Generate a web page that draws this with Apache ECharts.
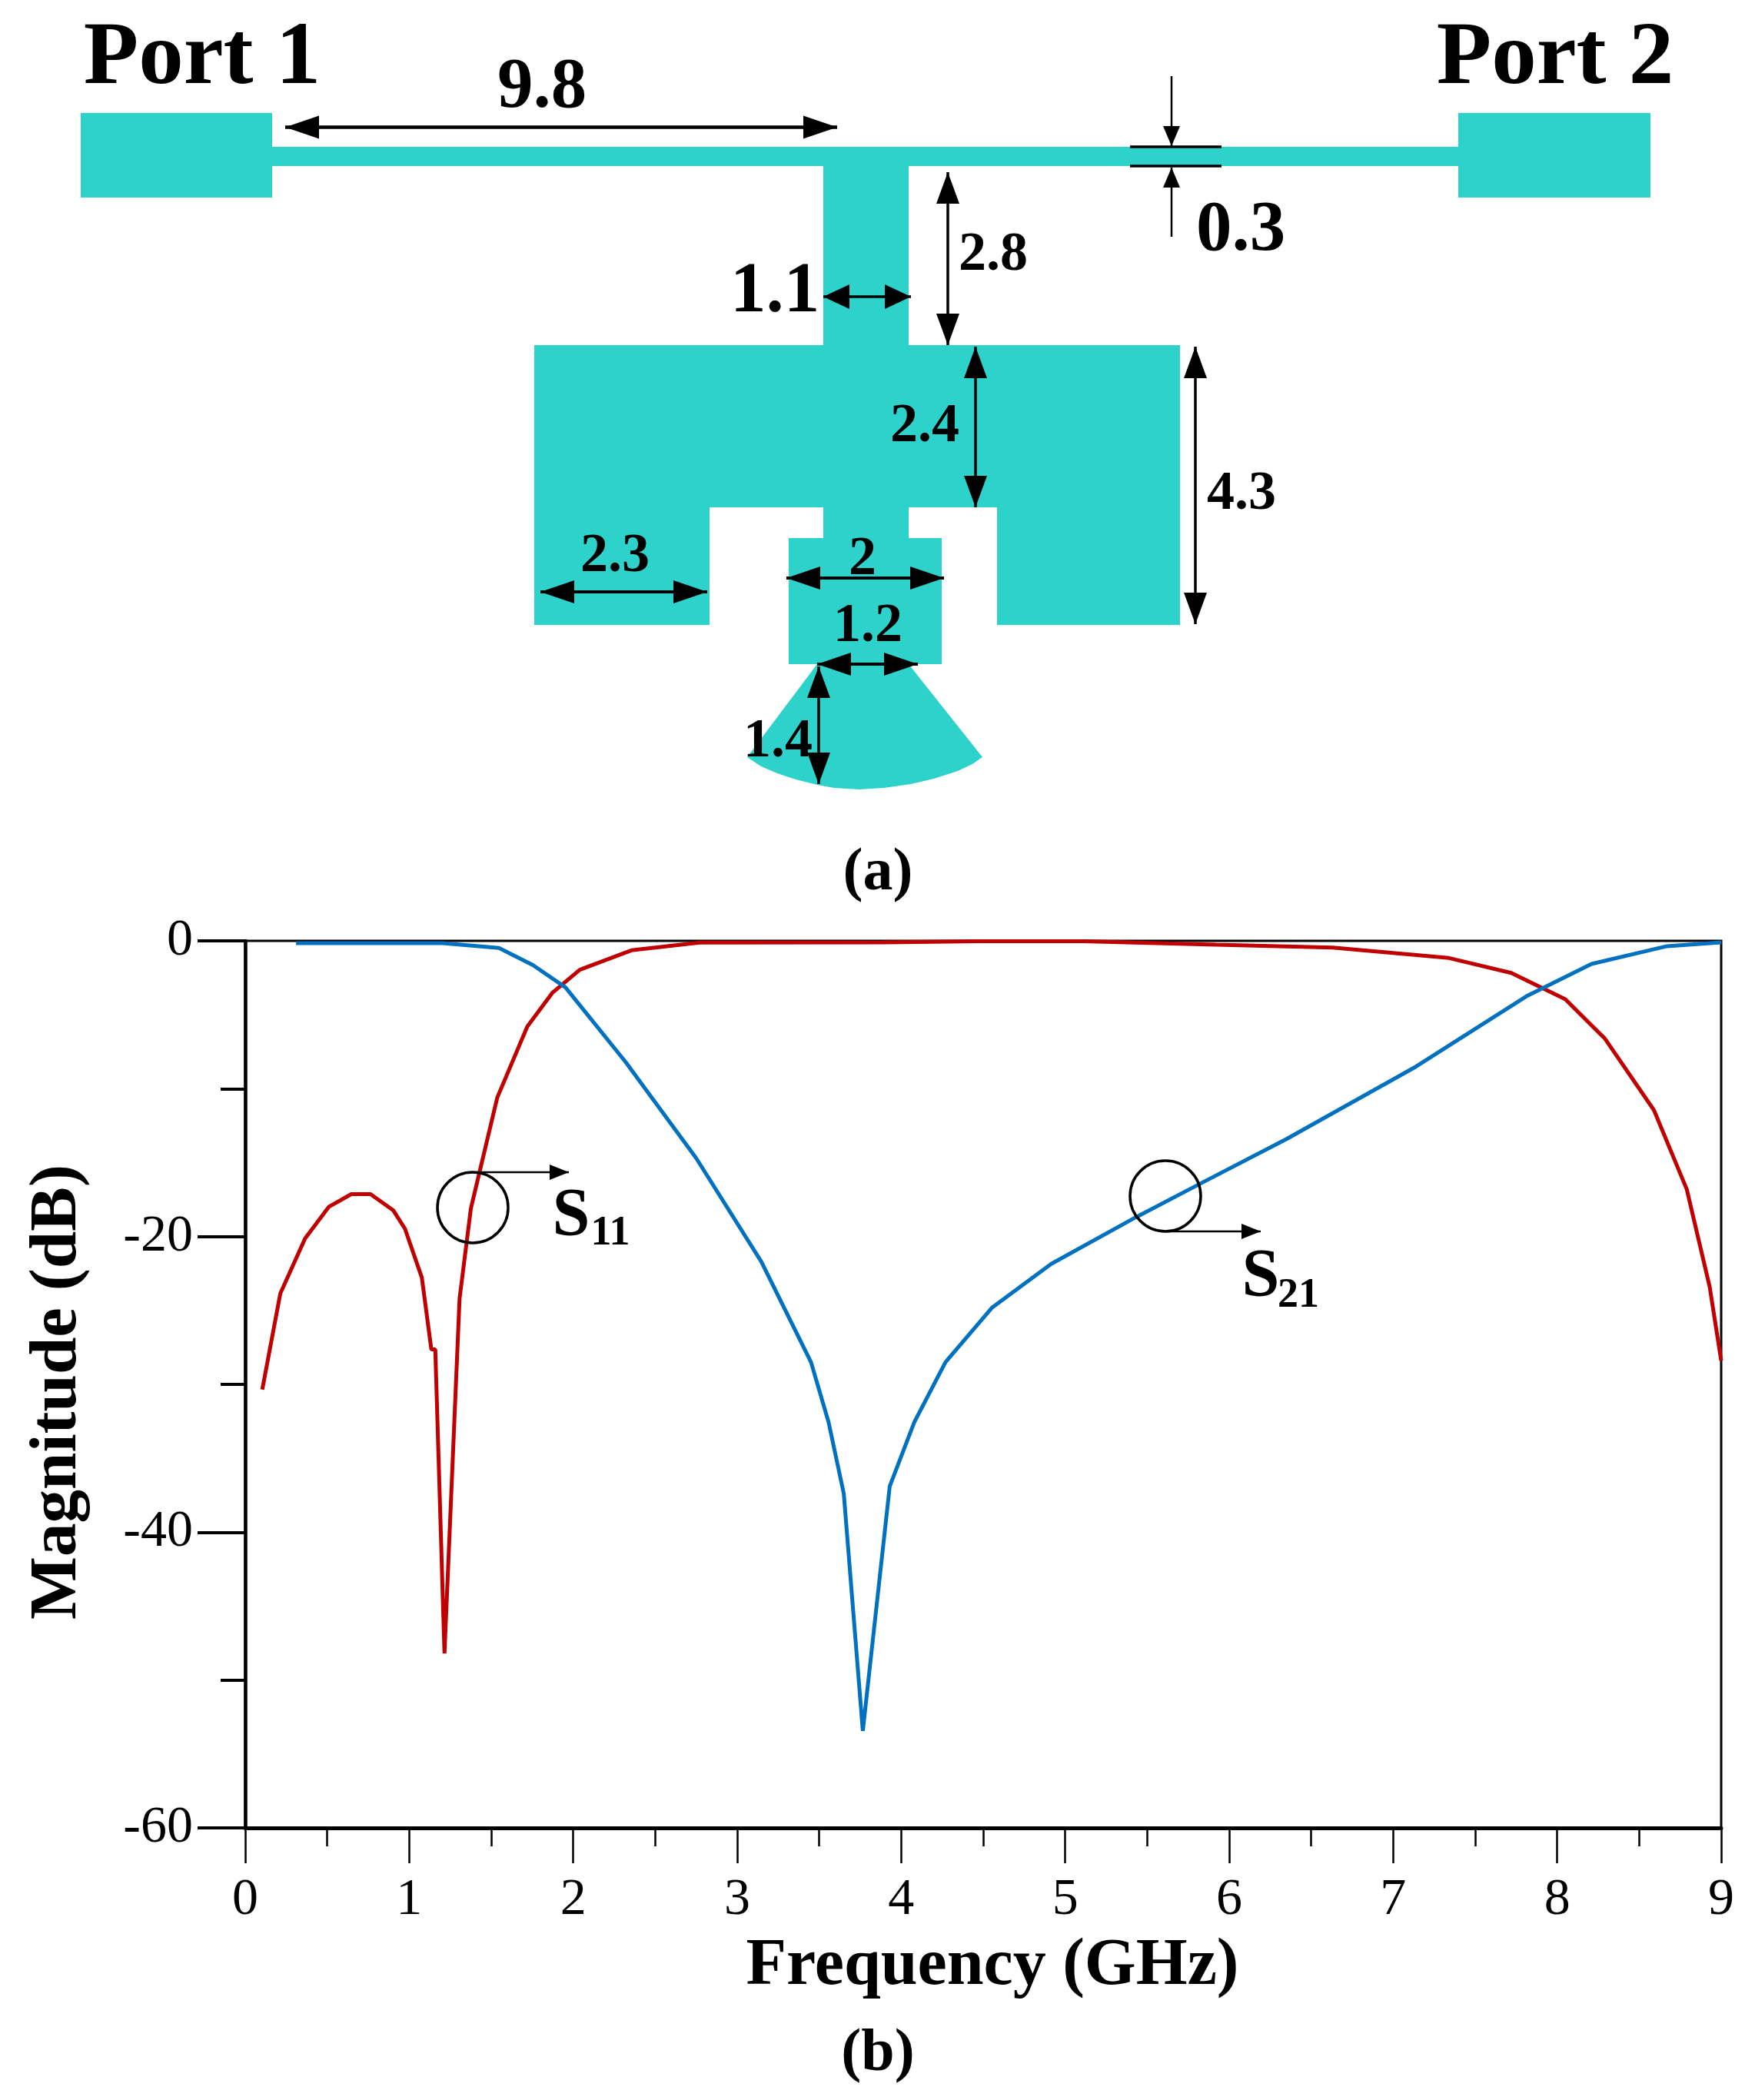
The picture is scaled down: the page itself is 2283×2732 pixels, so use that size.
<!DOCTYPE html>
<html>
<head>
<meta charset="utf-8">
<style>html,body{margin:0;padding:0;background:#fff}#c{width:2283px;height:2732px}</style>
<script src="https://cdn.jsdelivr.net/npm/echarts@6/dist/echarts.min.js"></script>
</head>
<body>
<div id="c"></div>
<script>
const s11Freq = [0.104,0.214,0.365,0.509,0.647,0.764,0.902,0.974,1.077,1.135,1.159,1.215,1.307,1.376,1.537,1.72,1.874,2.04,2.355,2.77,3.89,4.47,5.11,5.92,6.63,7.34,7.72,8.05,8.29,8.59,8.79,8.93,9.0];
const s11Mag  = [-30.35,-23.85,-20.13,-18.0,-17.13,-17.13,-18.22,-19.47,-22.78,-27.64,-27.64,-48.2,-24.2,-18.1,-10.6,-5.8,-3.5,-1.96,-0.64,-0.12,-0.1,-0.03,-0.03,-0.26,-0.45,-1.16,-2.17,-3.95,-6.6,-11.45,-16.8,-23.4,-28.4];
const s21Freq = [0.31,1.204,1.547,1.754,1.953,2.32,2.75,3.147,3.45,3.557,3.65,3.766,3.93,4.08,4.27,4.555,4.915,5.43,5.81,6.35,7.14,7.82,8.21,8.67,9.0];
const s21Mag  = [-0.15,-0.15,-0.48,-1.64,-3.15,-8.2,-14.7,-21.7,-28.5,-32.55,-37.4,-53.44,-36.9,-32.55,-28.5,-24.8,-21.85,-18.7,-16.5,-13.4,-8.5,-3.7,-1.56,-0.36,-0.1];
const xTitle = 'Frequency (GHz)';
const yTitle = 'Magnitude (dB)';

const TEAL = '#2DD2CB', RED = '#C00000', BLUE = '#0070C0', SERIF = '"Liberation Serif"';
const g = [];
const rect = (x1,y1,x2,y2) => g.push({type:'rect',silent:true,z:1,shape:{x:x1,y:y1,width:x2-x1,height:y2-y1},style:{fill:TEAL}});
const text = (t,cx,cy,size,weight='bold',align='center') => g.push({type:'text',silent:true,z:6,style:{text:t,x:cx,y:cy,font:`${weight} ${size}px ${SERIF}`,fill:'#000',textAlign:align,textVerticalAlign:'middle'}});
const seg = (x1,y1,x2,y2,w=3) => g.push({type:'line',silent:true,z:5,shape:{x1,y1,x2,y2},style:{stroke:'#000',lineWidth:w}});
const head = (x,y,dx,dy,len,half) => {
  const bx = x-dx*len, by = y-dy*len, px = -dy*half, py = dx*half;
  g.push({type:'polygon',silent:true,z:5,shape:{points:[[x,y],[bx+px,by+py],[bx-px,by-py]]},style:{fill:'#000'}});
};
const arrow = (x1,y1,x2,y2,w,len,half,both=true) => {
  const L = Math.hypot(x2-x1,y2-y1), dx=(x2-x1)/L, dy=(y2-y1)/L;
  seg(x1,y1,x2,y2,w);
  head(x2,y2,dx,dy,len,half);
  if (both) head(x1,y1,-dx,-dy,len,half);
};

// Layout sketch (a)
rect(105,147,354,257); rect(1897,147,2147,257);
rect(354,191,1897,216);
rect(1071,216,1182,449);
g.push({type:'polygon',silent:true,z:1,shape:{points:[[695,449],[1535,449],[1535,813],[1297,813],[1297,660],[1182,660],[1182,700],[1225,700],[1225,864],[1182,864],[1278,985],[1265,994],[1246,1003],[1215,1013],[1185,1020],[1150,1025],[1118,1027],[1085,1025],[1063,1021],[1035,1014],[1011,1006],[990,997],[972,985],[1063,864],[1026,864],[1026,700],[1071,700],[1071,660],[923,660],[923,813],[695,813]]},style:{fill:TEAL}});

arrow(371,165.5,1089,165.5,4.5,44,15);
arrow(1524,99,1524,190,2.5,26,11,false);
arrow(1524,308,1524,218,2.5,26,11,false);
seg(1470,191,1589,191,3.5); seg(1470,216,1589,216,3.5);
arrow(1233,224,1233,449,3.5,41,15);
arrow(1071,386,1185,386,3.5,34,16);
arrow(1269,451,1269,660,3.5,41,15);
arrow(1555,451,1555,812,3.5,41,15);
arrow(703,770,920,770,4,44,15);
arrow(1023,752,1228,752,4,44,15);
arrow(1063,864,1194,864,4,44,15);
arrow(1065,867,1065,1020,3.5,41,15);

text('Port 1',263,78,117); text('Port 2',2023,78,117);
text('9.8',705,115,93); text('0.3',1614,301,93); text('1.1',1008,381,93);
text('2.8',1292,332,72); text('2.4',1203,555,72); text('4.3',1615,643,72);
text('2.3',800,724,72); text('2',1122,728,72); text('1.2',1129,815,72); text('1.4',1012,965,72);
text('(a)',1142,1137,78); text('(b)',1142,2673,78);

// Plot annotations (b)
const ring = (cx,cy,r) => g.push({type:'circle',silent:true,z:7,shape:{cx,cy,r},style:{fill:'none',stroke:'#000',lineWidth:3.5}});
ring(615,1571,46); arrow(624,1525,740,1525,2.5,25,10,false);
ring(1516,1556,46); arrow(1516,1602,1640,1602,2.5,25,10,false);
text('S',743,1583,88); text('11',794,1605,54);
text('S',1640,1662,88); text('21',1689,1686,54);

const chart = echarts.init(document.getElementById('c'),null,{renderer:'canvas'});
chart.setOption({
  animation:false,
  backgroundColor:'#fff',
  grid:{left:319,right:44,top:1224,bottom:354,show:true,borderColor:'#000',borderWidth:3,outerBoundsMode:'none',containLabel:false},
  xAxis:{type:'value',min:0,max:9,interval:1,
    name:xTitle,nameLocation:'middle',nameGap:138,
    nameTextStyle:{fontFamily:SERIF,fontWeight:'bold',fontSize:86,color:'#000',padding:[0,0,0,24]},
    axisLine:{show:true,onZero:false,lineStyle:{color:'#000',width:5}},
    axisTick:{show:true,inside:false,length:46,lineStyle:{color:'#000',width:2.5}},
    minorTick:{show:true,splitNumber:2,length:24,lineStyle:{color:'#000',width:2.5}},
    axisLabel:{show:true,margin:60,fontFamily:SERIF,fontSize:68,color:'#000',hideOverlap:false},
    splitLine:{show:false},minorSplitLine:{show:false}},
  yAxis:{type:'value',min:-60,max:0,interval:20,
    name:yTitle,nameLocation:'middle',nameGap:200,nameRotate:90,
    nameTextStyle:{fontFamily:SERIF,fontWeight:'bold',fontSize:87,color:'#000',padding:[0,20,0,0]},
    axisLine:{show:true,onZero:false,lineStyle:{color:'#000',width:4.5}},
    axisTick:{show:true,inside:false,length:62,lineStyle:{color:'#000',width:4}},
    minorTick:{show:true,splitNumber:2,length:32,lineStyle:{color:'#000',width:4}},
    axisLabel:{show:true,margin:68,fontFamily:SERIF,fontSize:68,color:'#000',hideOverlap:false,padding:[8,0,0,0]},
    splitLine:{show:false},minorSplitLine:{show:false}},
  series:[
    {name:'S11',type:'line',showSymbol:false,symbol:'none',smooth:false,clip:false,z:3,
     lineStyle:{color:RED,width:5},data:s11Freq.map((f,i)=>[f,s11Mag[i]])},
    {name:'S21',type:'line',showSymbol:false,symbol:'none',smooth:false,clip:false,z:4,
     lineStyle:{color:BLUE,width:5},data:s21Freq.map((f,i)=>[f,s21Mag[i]])}
  ],
  graphic:{elements:g}
});
</script>
</body>
</html>
